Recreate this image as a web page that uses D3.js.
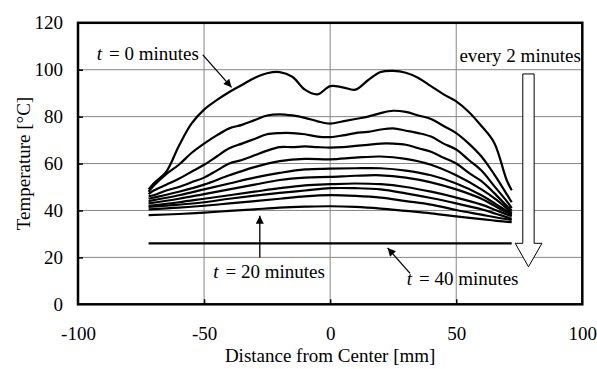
<!DOCTYPE html>
<html>
<head>
<meta charset="utf-8">
<script src="https://cdn.jsdelivr.net/npm/d3@7"></script>
<style>
  body { margin: 0; background: #fff; }
  svg { display: block; font-family: "Liberation Serif", "Times New Roman", serif; }
  .grid line { stroke: #868686; stroke-width: 1; }
  .curve { fill: none; stroke: #000; stroke-width: 2.2; stroke-linejoin: round; }
  .axis path { display: none; }
</style>
</head>
<body>
<svg id="chart" width="597" height="369"></svg>
<script>
// distance from center [mm]
let distFine = [-72, -70, -65, -60, -55, -50, -45, -40, -35, -30, -25, -20, -15, -10, -5, 0, 5, 10, 15, 20, 25, 30, 35, 40, 45, 50, 55, 60, 65, 70, 72];
let distCoarse = [-72, -60, -50, -40, -30, -20, -10, 0, 10, 20, 30, 40, 50, 60, 66, 72];
let distEnds = [-72, 72];

// temperature [C], every 2 minutes from t = 0
let t0 = [49, 51.5, 56.5, 67.5, 77, 83, 87, 90.5, 93.5, 96.5, 98.5, 99, 97, 91.5, 89.5, 93, 92.5, 91.5, 95.5, 99, 99.5, 98.7, 96.5, 93, 89.5, 86.5, 82, 76, 69, 53, 48.6];
let t2 = [48, 50.5, 55.5, 59.5, 64.5, 68.5, 72, 75, 76.5, 78.5, 80.5, 81, 80.5, 79.5, 78, 77, 78, 79, 80, 81.5, 82.5, 82, 80.5, 79, 76, 73, 68.5, 63, 55.5, 47, 43.5];
let t4 = [47, 48.5, 51, 53.5, 56.5, 59.5, 63, 66.5, 68.5, 70.5, 72.5, 73, 73, 72.5, 71.5, 71.3, 72, 73, 73.5, 74.5, 75, 74, 73, 71.5, 68.5, 66, 61.5, 57, 50.5, 44, 41];
let t6 = [46, 46.5, 48.5, 50, 52, 54, 57, 60, 61.5, 63.5, 65.5, 67, 67, 67.3, 67, 66.8, 67, 67.5, 68, 68.5, 68.5, 68, 66.5, 65, 62.5, 60, 56, 52.5, 47.5, 42, 40];
let t8 = [45, 48, 51, 55, 58.5, 61, 62, 61.8, 62.5, 63, 62, 59.5, 55, 49, 44.5, 39];
let t10 = [44, 46.5, 49, 51.5, 54, 56, 57.5, 57.8, 58, 58, 57, 55, 51.5, 46.5, 42.5, 38.5];
let t12 = [43, 45, 47, 49, 51, 53, 54, 54.3, 54.8, 55, 54, 52, 49, 45, 41.5, 38];
let t14 = [42, 43.5, 45, 46.5, 48, 49.5, 50.7, 51.2, 51.5, 51.2, 50, 48, 45.5, 42.5, 40, 37.5];
let t16 = [41.5, 42.5, 43.5, 45, 46.3, 47.5, 48.5, 49.5, 49.5, 49, 47.3, 45.3, 43, 40.5, 38.5, 36.5];
let t18 = [40.5, 41.2, 42, 43, 44, 45, 46, 46.5, 46.2, 45.5, 44, 42.5, 40.2, 38.2, 37, 36];
let t20 = [38, 38.5, 39.1, 39.8, 40.5, 41.2, 41.6, 41.8, 41.5, 40.8, 39.8, 38.8, 37.5, 36.3, 35.6, 35];
let t40 = [26, 26];

let xTicks = [-100, -50, 0, 50, 100];
let yTicks = [0, 20, 40, 60, 80, 100, 120];

// annotations, in data units
let labels = [
  { t: "0", x: -92.6, y: 104.1 },
  { t: "20", x: -46.4, y: 11.2 },
  { t: "40", x: 30.4, y: 8.4 }
];
let pointers = [
  [[-50.5, 106.3], [-39.1, 92.5]],
  [[-27.9, 20], [-27.9, 37.8]],
  [[31.7, 13.2], [22.8, 24]]
];
let bigArrow = [[76.4, 98.2], [80.9, 98.2], [80.9, 26], [84, 26], [78.65, 16], [73.4, 26], [76.4, 26]];

let series = [
  [distFine, t0], [distFine, t2], [distFine, t4], [distFine, t6],
  [distCoarse, t8], [distCoarse, t10], [distCoarse, t12], [distCoarse, t14],
  [distCoarse, t16], [distCoarse, t18], [distCoarse, t20], [distEnds, t40]
];

let serif = '"Liberation Serif", "Times New Roman", serif';
let svg = d3.select("#chart");
let pLeft = 78, pRight = 582.3, pTop = 22.8, pBottom = 304.3;

let x = d3.scaleLinear().domain([-100, 100]).range([pLeft, pRight]);
let y = d3.scaleLinear().domain([0, 120]).range([pBottom, pTop]);

// gridlines
let grid = svg.append("g").attr("class", "grid");
grid.selectAll("line.h")
  .data(yTicks.slice(1, -1))
  .enter().append("line")
    .attr("x1", pLeft).attr("x2", pRight)
    .attr("y1", d => y(d)).attr("y2", d => y(d));
grid.selectAll("line.v")
  .data(xTicks.slice(1, -1))
  .enter().append("line")
    .attr("x1", d => x(d)).attr("x2", d => x(d))
    .attr("y1", pTop).attr("y2", pBottom);

// inner tick marks
svg.append("g")
  .attr("transform", `translate(0,${pBottom})`)
  .call(d3.axisBottom(x).tickValues(xTicks.slice(1, -1)).tickSizeInner(-5).tickFormat(""))
  .call(g => g.select(".domain").remove())
  .selectAll("line").attr("stroke-width", 1.5);
svg.append("g")
  .attr("transform", `translate(${pLeft},0)`)
  .call(d3.axisLeft(y).tickValues(yTicks.slice(1, -1)).tickSizeInner(-5).tickFormat(""))
  .call(g => g.select(".domain").remove())
  .selectAll("line").attr("stroke-width", 1.5);

// tick labels
svg.append("g")
  .attr("class", "axis")
  .attr("transform", `translate(0,${pBottom})`)
  .call(d3.axisBottom(x).tickValues(xTicks).tickSize(0).tickFormat(d => String(d)))
  .attr("font-family", serif)
  .attr("font-size", 19)
  .selectAll("text")
    .attr("fill", "#000")
    .attr("dy", 0)
    .attr("y", 35.7);
svg.append("g")
  .attr("class", "axis")
  .attr("transform", `translate(${pLeft},0)`)
  .call(d3.axisLeft(y).tickValues(yTicks).tickSize(0).tickPadding(15).tickFormat(d => String(d)))
  .attr("font-family", serif)
  .attr("font-size", 19)
  .selectAll("text")
    .attr("fill", "#000");

// curves
let line = d3.line()
  .x(d => x(d[0]))
  .y(d => y(d[1]))
  .curve(d3.curveCatmullRom.alpha(0.5));

svg.append("g")
  .selectAll("path")
  .data(series.map(s => d3.zip(s[0], s[1])))
  .enter().append("path")
    .attr("class", "curve")
    .attr("d", line);

// frame
svg.append("rect")
  .attr("x", pLeft).attr("y", pTop)
  .attr("width", pRight - pLeft).attr("height", pBottom - pTop)
  .attr("fill", "none").attr("stroke", "#000").attr("stroke-width", 2.5);

// arrow heads
svg.append("defs").append("marker")
  .attr("id", "head")
  .attr("viewBox", "0 0 10 10")
  .attr("refX", 10).attr("refY", 5)
  .attr("markerUnits", "userSpaceOnUse")
  .attr("markerWidth", 10).attr("markerHeight", 8)
  .attr("orient", "auto")
  .append("path")
    .attr("d", "M0,0 L10,5 L0,10 Z")
    .attr("fill", "#000");

svg.append("g")
  .selectAll("line")
  .data(pointers)
  .enter().append("line")
    .attr("x1", d => x(d[0][0])).attr("y1", d => y(d[0][1]))
    .attr("x2", d => x(d[1][0])).attr("y2", d => y(d[1][1]))
    .attr("stroke", "#000").attr("stroke-width", 1.3)
    .attr("marker-end", "url(#head)");

// "t = n minutes" labels
let lab = svg.append("g")
  .selectAll("text")
  .data(labels)
  .enter().append("text")
    .attr("x", d => x(d.x)).attr("y", d => y(d.y))
    .attr("font-size", 19);
lab.append("tspan").attr("font-style", "italic").text("t");
lab.append("tspan").attr("dx", 7).text(d => "= " + d.t + " minutes");

// hollow arrow
svg.append("path")
  .attr("d", d3.line().x(d => x(d[0])).y(d => y(d[1]))(bigArrow) + "Z")
  .attr("fill", "#fff").attr("stroke", "#000").attr("stroke-width", 1);

svg.append("text")
  .attr("x", x(99.4)).attr("y", y(103.4))
  .attr("text-anchor", "end").attr("font-size", 19)
  .text("every 2 minutes");

// axis titles
svg.append("text")
  .attr("x", (pLeft + pRight) / 2).attr("y", 362)
  .attr("text-anchor", "middle").attr("font-size", 19)
  .text("Distance from Center [mm]");
svg.append("text")
  .attr("transform", `translate(30,${(pTop + pBottom) / 2}) rotate(-90)`)
  .attr("text-anchor", "middle").attr("font-size", 19)
  .text("Temperature [\u00b0C]");
</script>
</body>
</html>
